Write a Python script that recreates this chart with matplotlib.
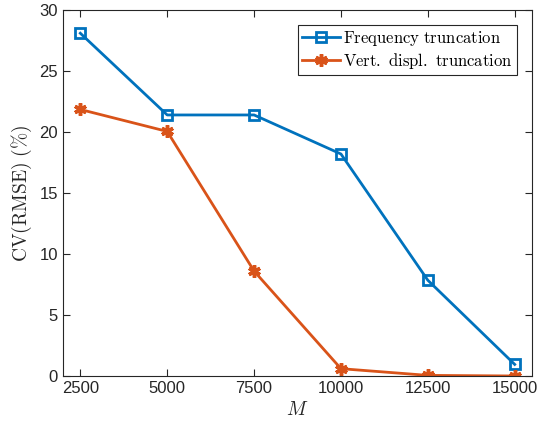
import matplotlib.pyplot as plt

plt.rcParams['mathtext.fontset'] = 'cm'
plt.rcParams['font.family'] = ['Liberation Sans', 'DejaVu Sans']

# sample counts and error values
M_values = [2500, 5000, 7500, 10000, 12500, 15000]
freq_trunc = [28.1, 21.4, 21.4, 18.2, 7.85, 0.95]
vert_trunc = [21.85, 20.05, 8.6, 0.6, 0.05, 0.0]

blue = '#0072BD'
orange = '#D95319'

fig = plt.figure(figsize=(5.38, 4.30), dpi=100)
ax = fig.add_axes([0.117, 0.1256, 0.872, 0.851])

ax.plot(M_values, freq_trunc, color=blue, linewidth=2, marker='s', markersize=7,
        markerfacecolor='none', markeredgewidth=2,
        label=r'$\mathrm{Frequency\ truncation}$')
ax.plot(M_values, vert_trunc, color=orange, linewidth=2, marker=(6, 2, 0), markersize=9,
        markeredgewidth=2.5,
        label=r'$\mathrm{Vert.\ displ.\ truncation}$')

ax.set_xlim(2000, 15500)
ax.set_ylim(0, 30)
ax.set_xticks(M_values)
ax.set_yticks([0, 5, 10, 15, 20, 25, 30])
ax.tick_params(direction='in', top=True, right=True, labelsize=12, colors='#262626',
               length=5, width=0.8)
for s in ax.spines.values():
    s.set_color('#262626')
    s.set_linewidth(0.8)

ax.set_xlabel(r'$M$', fontsize=14, color='#262626')
ax.set_ylabel(r'$\mathrm{CV(RMSE)\ (\%)}$', fontsize=14, color='#262626')

leg = ax.legend(loc='upper right', fontsize=12, fancybox=False, edgecolor='#262626',
                framealpha=1, borderpad=0.25, labelspacing=0.15, handlelength=2.3,
                handletextpad=0.2, borderaxespad=0.9)
leg.get_frame().set_linewidth(0.8)

fig.savefig('out.png', dpi=100)
